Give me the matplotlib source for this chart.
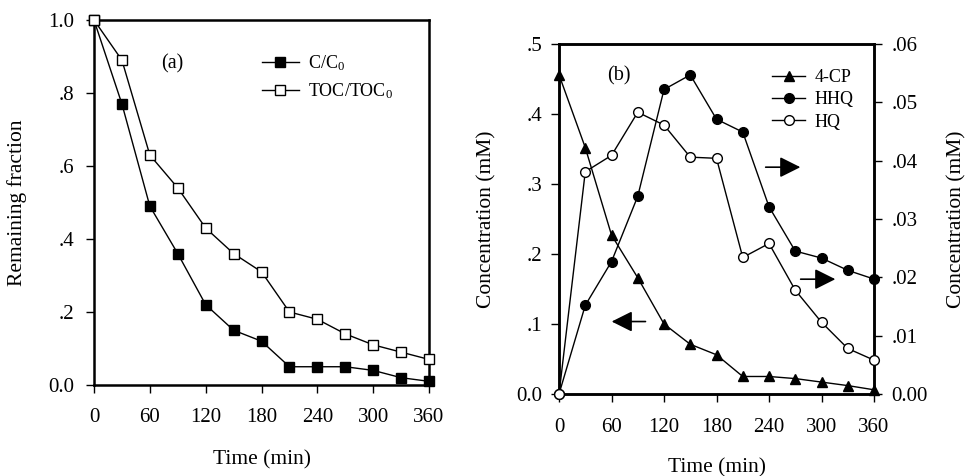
import matplotlib
matplotlib.use("Agg")
import matplotlib.pyplot as plt
from matplotlib.ticker import FixedLocator, FixedFormatter

plt.rcParams['font.family'] = ['Liberation Serif', 'DejaVu Serif']
plt.rcParams['mathtext.fontset'] = 'custom'
plt.rcParams['mathtext.rm'] = 'Liberation Serif'
plt.rcParams['mathtext.it'] = 'Liberation Serif:italic'

# Sampling times (min)
time = [0, 30, 60, 90, 120, 150, 180, 210, 240, 270, 300, 330, 360]

# Panel (a): remaining fractions
c_ratio = [1.0, 0.77, 0.49, 0.36, 0.22, 0.15, 0.12, 0.05, 0.05, 0.05, 0.04, 0.02, 0.01]
toc_ratio = [1.0, 0.89, 0.63, 0.54, 0.43, 0.36, 0.31, 0.20, 0.18, 0.14, 0.11, 0.09, 0.07]

# Panel (b): concentrations (mM)
cp4 = [0.456, 0.352, 0.227, 0.166, 0.100, 0.071, 0.056, 0.025, 0.025, 0.022, 0.017, 0.012, 0.006]
hhq = [0.0, 0.0152, 0.0227, 0.0339, 0.0522, 0.0547, 0.0471, 0.0449, 0.0321, 0.0245, 0.0233, 0.0212, 0.0197]
hq = [0.0, 0.0381, 0.0409, 0.0483, 0.0461, 0.0406, 0.0404, 0.0234, 0.0258, 0.0178, 0.0123, 0.0078, 0.0058]

x_ticks = [0, 60, 120, 180, 240, 300, 360]
a_yticks = [0.0, 0.2, 0.4, 0.6, 0.8, 1.0]
a_ylabels = ['0.0', '.2', '.4', '.6', '.8', '1.0']
b_yticks = [0.0, 0.1, 0.2, 0.3, 0.4, 0.5]
b_ylabels = ['0.0', '.1', '.2', '.3', '.4', '.5']
b_y2ticks = [0.0, 0.01, 0.02, 0.03, 0.04, 0.05, 0.06]
b_y2labels = ['0.00', '.01', '.02', '.03', '.04', '.05', '.06']

FS_TICK = 15
FS_LABEL = 15.5
FS_LEG = 13
FS_PANEL = 14.5
SPINE_W = 1.8
LINE_W = 1.0
TICK_LEN = 5.5

fig = plt.figure(figsize=(9.65, 4.76), dpi=100)


def style_axes(ax, xpad, ypad):
    for s in ax.spines.values():
        s.set_linewidth(SPINE_W)
    ax.tick_params(axis='both', direction='out', length=TICK_LEN, width=1.0,
                   labelsize=FS_TICK)
    ax.tick_params(axis='x', top=False, pad=xpad)
    ax.tick_params(axis='y', right=False, pad=ypad)


def place_labels(ax, xlabel_y, ylabel_x):
    ax.xaxis.label.set_verticalalignment('center')
    ax.xaxis.set_label_coords(0.5, xlabel_y)
    ax.yaxis.label.set_verticalalignment('center')
    ax.yaxis.set_label_coords(ylabel_x, 0.5)


# ---------------- Panel (a) ----------------
axa = fig.add_axes([0.0974, 0.1912, 0.3472, 0.7668])
axa.plot(time, c_ratio, '-', color='black', lw=LINE_W, marker='s', ms=6.5,
         mfc='black', mec='black', mew=1.0, clip_on=False, zorder=3,
         label='C/C$_0$')
axa.plot(time, toc_ratio, '-', color='black', lw=LINE_W, marker='s', ms=6.5,
         mfc='white', mec='black', mew=1.0, clip_on=False, zorder=4,
         label='TOC/TOC$_0$')
axa.set_xlim(0, 360)
axa.set_ylim(0, 1.0)
axa.xaxis.set_major_locator(FixedLocator(x_ticks))
axa.yaxis.set_major_locator(FixedLocator(a_yticks))
axa.yaxis.set_major_formatter(FixedFormatter(a_ylabels))
style_axes(axa, xpad=11, ypad=8.5)
axa.set_xlabel('Time (min)', fontsize=FS_LABEL)
axa.set_ylabel('Remaining fraction', fontsize=FS_LABEL)
place_labels(axa, xlabel_y=-0.205, ylabel_x=-0.23)
axa.text(0.233, 0.88, '(a)', transform=axa.transAxes, fontsize=FS_PANEL,
         ha='center', va='center')
axa.legend(loc='upper left', bbox_to_anchor=(0.50, 0.908), frameon=False,
           fontsize=FS_LEG, handlelength=2.1, handletextpad=0.5,
           labelspacing=0.45, borderaxespad=0, borderpad=0)

# ---------------- Panel (b) ----------------
axb = fig.add_axes([0.5793, 0.1723, 0.3264, 0.7353])
axb2 = axb.twinx()
l1, = axb.plot(time, cp4, '-', color='black', lw=LINE_W, marker='^', ms=7.5,
               mfc='black', mec='black', clip_on=False, zorder=3, label='4-CP')
l2, = axb2.plot(time, hhq, '-', color='black', lw=LINE_W, marker='o', ms=7,
                mfc='black', mec='black', clip_on=False, zorder=3, label='HHQ')
l3, = axb2.plot(time, hq, '-', color='black', lw=LINE_W, marker='o', ms=7,
                mfc='white', mec='black', mew=1.0, clip_on=False, zorder=4,
                label='HQ')
axb.set_xlim(0, 360)
axb.set_ylim(0, 0.5)
axb2.set_ylim(0, 0.06)
axb.xaxis.set_major_locator(FixedLocator(x_ticks))
axb.yaxis.set_major_locator(FixedLocator(b_yticks))
axb.yaxis.set_major_formatter(FixedFormatter(b_ylabels))
axb2.yaxis.set_major_locator(FixedLocator(b_y2ticks))
axb2.yaxis.set_major_formatter(FixedFormatter(b_y2labels))
style_axes(axb, xpad=11.5, ypad=6.5)
for s in axb2.spines.values():
    s.set_linewidth(SPINE_W)
axb2.tick_params(axis='y', direction='out', length=TICK_LEN, width=1.0,
                 labelsize=FS_TICK, pad=7)
axb.set_xlabel('Time (min)', fontsize=FS_LABEL)
axb.set_ylabel('Concentration (mM)', fontsize=FS_LABEL)
axb2.set_ylabel('Concentration (mM)', fontsize=FS_LABEL)
place_labels(axb, xlabel_y=-0.212, ylabel_x=-0.229)
axb2.yaxis.label.set_verticalalignment('center')
axb2.yaxis.set_label_coords(1.263, 0.5)
axb.text(0.19, 0.91, '(b)', transform=axb.transAxes, fontsize=FS_PANEL,
         ha='center', va='center')
axb2.legend(handles=[l1, l2, l3], loc='upper left', bbox_to_anchor=(0.676, 0.929),
            frameon=False, fontsize=FS_LEG, handlelength=1.85,
            handletextpad=0.5, labelspacing=0.3, borderaxespad=0, borderpad=0)

# Arrows pointing to the axis each curve belongs to
arrow_kw = dict(arrowstyle='-|>,head_length=0.9,head_width=0.45',
                color='black', lw=1.2, mutation_scale=14)
axb.annotate('', xy=(57, 0.1035), xytext=(102, 0.1035), arrowprops=arrow_kw)
axb.annotate('', xy=(279, 0.324), xytext=(233, 0.324), arrowprops=arrow_kw)
axb.annotate('', xy=(319, 0.164), xytext=(273, 0.164), arrowprops=arrow_kw)

fig.savefig('out.png', dpi=100)
